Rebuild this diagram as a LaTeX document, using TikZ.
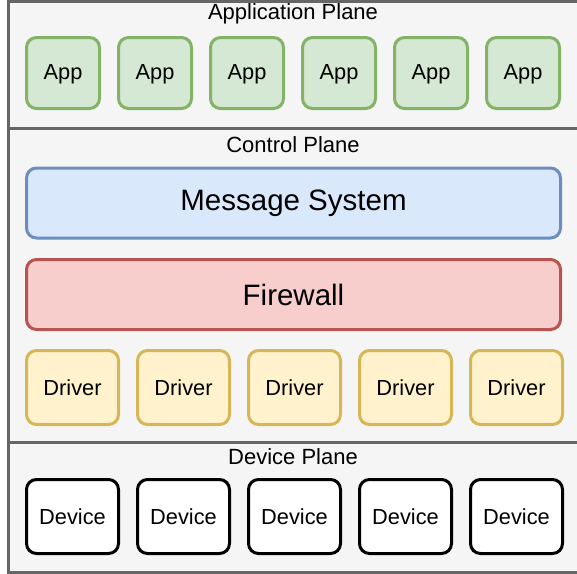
\documentclass[tikz,border=0pt]{standalone}
\usepackage{fontspec}
\setmainfont{Liberation Sans}
\usetikzlibrary{positioning}

\definecolor{planefill}{HTML}{F5F5F5}
\definecolor{planeline}{HTML}{666666}
\definecolor{appfill}{HTML}{D5E8D4}
\definecolor{appline}{HTML}{82B366}
\definecolor{msgfill}{HTML}{DAE8FC}
\definecolor{msgline}{HTML}{6C8EBF}
\definecolor{fwfill}{HTML}{F8CECC}
\definecolor{fwline}{HTML}{B85450}
\definecolor{drvfill}{HTML}{FFF2CC}
\definecolor{drvline}{HTML}{D6B656}

\tikzset{
    plane/.style={fill=planefill, draw=planeline, line width=3pt},
    planelabel/.style={font=\fontsize{22}{24}\selectfont, inner sep=0pt},
    block/.style={rounded corners=10pt, line width=3pt, inner sep=0pt,
        font=\fontsize{21.8}{24}\selectfont},
    appbox/.style={block, fill=appfill, draw=appline,
        minimum width=73pt, minimum height=71pt},
    drvbox/.style={block, fill=drvfill, draw=drvline,
        minimum width=92pt, minimum height=74pt},
    devbox/.style={block, fill=white, draw=black,
        minimum width=92pt, minimum height=74pt},
    widebox/.style={block, minimum width=534pt, minimum height=70pt,
        font=\fontsize{29.5}{32}\selectfont}
}

\begin{document}
\begin{tikzpicture}[x=1pt, y=-1pt]
\useasboundingbox (0,0) rectangle (577,573);

% Planes
\draw[plane] (8,1) rectangle (590,128);
\draw[plane] (8,128) rectangle (590,442.5);
\draw[plane] (8,442.5) rectangle (590,572);

\node[planelabel] (apl) at (293,14) {Application Plane};
\node[planelabel] (cpl) at (293,145) {Control Plane};
\node[planelabel] (dpl) at (293,457) {Device Plane};

% Application plane
\foreach \i in {0,...,5}
    \node[appbox, text depth=2pt] (app\i) at (63+92*\i,73) {App};

% Control plane
\node[widebox, fill=msgfill, draw=msgline] (msg) at (293.5,203) {Message System};
\node[widebox, fill=fwfill, draw=fwline] (fw) at (293.5,294.5) {Firewall};

\foreach \i in {0,...,4}
    \node[drvbox] (drv\i) at (72.5+111*\i,387.5) {Driver};

% Device plane
\foreach \i in {0,...,4}
    \node[devbox] (dev\i) at (72.5+111*\i,516.5) {Device};
\end{tikzpicture}
\end{document}
